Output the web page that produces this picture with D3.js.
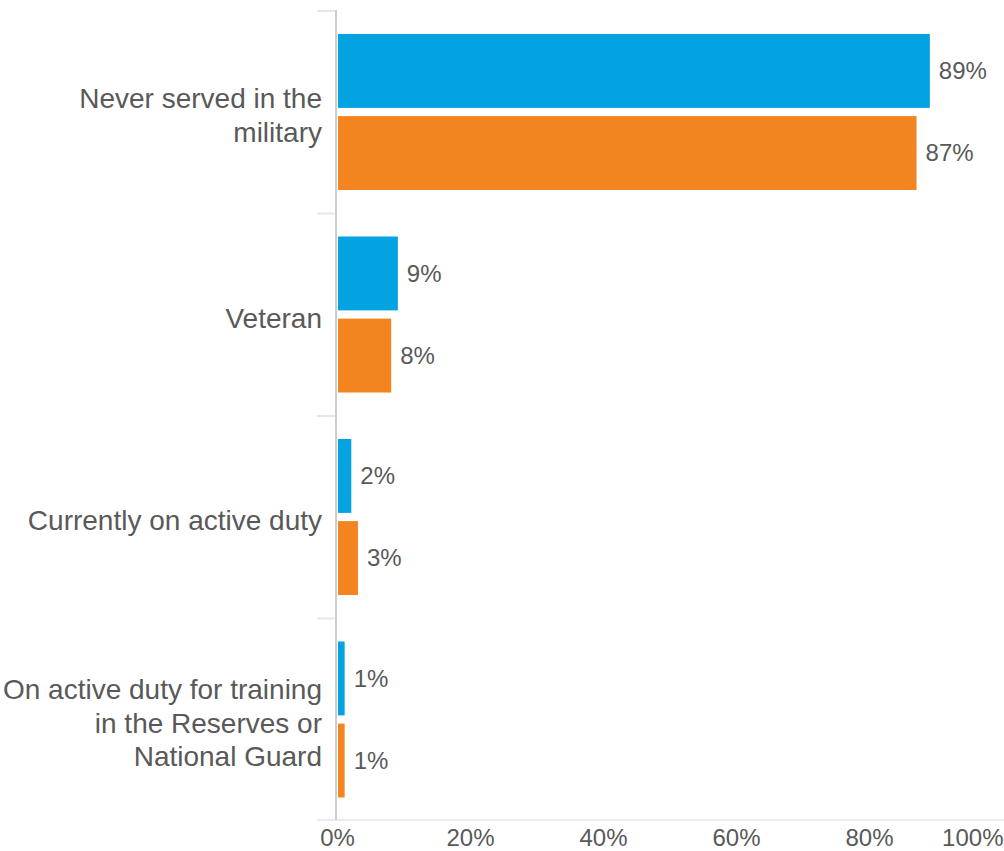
<!DOCTYPE html>
<html>
<head>
<meta charset="utf-8">
<script src="https://cdn.jsdelivr.net/npm/d3@7"></script>
<style>
  html, body { margin: 0; padding: 0; background: #fff; }
  svg { display: block; font-family: "Liberation Sans", Arial, sans-serif; }
</style>
</head>
<body>
<svg id="chart" width="1004" height="851"></svg>
<script>
// Military service status, two survey groups (percent of respondents)
const categories = [
  "Never served in the military",
  "Veteran",
  "Currently on active duty",
  "On active duty for training in the Reserves or National Guard"
];
const seriesKeys = ["groupA", "groupB"];
const groupAValues = [89, 9, 2, 1];
const groupBValues = [87, 8, 3, 1];
const xTickValues = [0, 20, 40, 60, 80, 100];

const colors = { groupA: "#02a3e0", groupB: "#f2851f" };
const textColor = "#595959";

const rows = categories.map((c, i) => ({
  category: c,
  groupA: groupAValues[i],
  groupB: groupBValues[i]
}));

const svg = d3.select("#chart");
const plotLeft = 337, plotRight = 1002, plotTop = 10, plotBottom = 820;

const x = d3.scaleLinear().domain([0, 100]).range([plotLeft, plotRight]);
const y = d3.scaleBand().domain(categories).range([plotTop, plotBottom]);
const ySub = d3.scaleBand().domain(seriesKeys)
  .range([24, y.bandwidth() - 22.5]).paddingInner(0.1);

// bottom baseline
svg.append("line")
  .attr("x1", 317).attr("x2", 1004)
  .attr("y1", plotBottom).attr("y2", plotBottom)
  .attr("stroke", "#ebebeb").attr("stroke-width", 2);

// category separators on the left
const boundaries = categories.map(c => y(c));
svg.selectAll("line.sep").data(boundaries).join("line")
  .attr("class", "sep")
  .attr("x1", 317).attr("x2", 335)
  .attr("y1", d => d + 1).attr("y2", d => d + 1)
  .attr("stroke", "#e6e6e6").attr("stroke-width", 2);

// bars
const groups = svg.selectAll("g.cat").data(rows).join("g")
  .attr("class", "cat")
  .attr("transform", d => `translate(0,${y(d.category)})`);

groups.selectAll("rect").data(d => seriesKeys.map(k => ({ key: k, value: d[k] })))
  .join("rect")
  .attr("x", x(0) + 1)
  .attr("y", d => ySub(d.key))
  .attr("width", d => x(d.value) - x(0))
  .attr("height", ySub.bandwidth())
  .attr("fill", d => colors[d.key]);

groups.selectAll("text.val").data(d => seriesKeys.map(k => ({ key: k, value: d[k] })))
  .join("text")
  .attr("class", "val")
  .attr("x", d => x(d.value) + 10)
  .attr("y", d => ySub(d.key) + ySub.bandwidth() / 2)
  .attr("dy", "0.35em")
  .attr("font-size", 24)
  .attr("fill", textColor)
  .text(d => d.value + "%");

// vertical axis line
svg.append("line")
  .attr("x1", 336).attr("x2", 336)
  .attr("y1", plotTop).attr("y2", plotBottom)
  .attr("stroke", "#cccccc").attr("stroke-width", 2);

// category labels, wrapped to fit the left margin
const labelWidth = 330;
const measurer = svg.append("text").attr("font-size", 28).attr("visibility", "hidden");
function wrapLines(str) {
  const words = str.split(" ");
  const lines = [];
  let line = [];
  for (const w of words) {
    line.push(w);
    measurer.text(line.join(" "));
    if (measurer.node().getComputedTextLength() > labelWidth && line.length > 1) {
      line.pop();
      lines.push(line.join(" "));
      line = [w];
    }
  }
  lines.push(line.join(" "));
  return lines;
}
const lineHeight = 33.5;
categories.forEach(c => {
  const lines = wrapLines(c);
  const cy = y(c) + y.bandwidth() / 2 + 4;
  const t = svg.append("text")
    .attr("text-anchor", "end")
    .attr("font-size", 28)
    .attr("fill", textColor);
  lines.forEach((ln, i) => {
    t.append("tspan")
      .attr("x", 322)
      .attr("y", cy + (i - (lines.length - 1) / 2) * lineHeight)
      .attr("dy", "0.35em")
      .text(ln);
  });
});
measurer.remove();

// x-axis tick labels
const xAxis = d3.axisBottom(x).tickValues(xTickValues)
  .tickFormat(d => d + "%").tickSize(0).tickPadding(0);
const gx = svg.append("g").attr("transform", `translate(0,${plotBottom})`).call(xAxis);
gx.select(".domain").remove();
gx.selectAll("text")
  .attr("font-size", 24)
  .attr("font-family", "Liberation Sans, Arial, sans-serif")
  .attr("fill", textColor)
  .attr("y", 26)
  .attr("dy", 0)
  .each(function(d) {
    if (d === 100) d3.select(this).attr("text-anchor", "end").attr("x", 1003 - x(100));
  });
</script>
</body>
</html>
